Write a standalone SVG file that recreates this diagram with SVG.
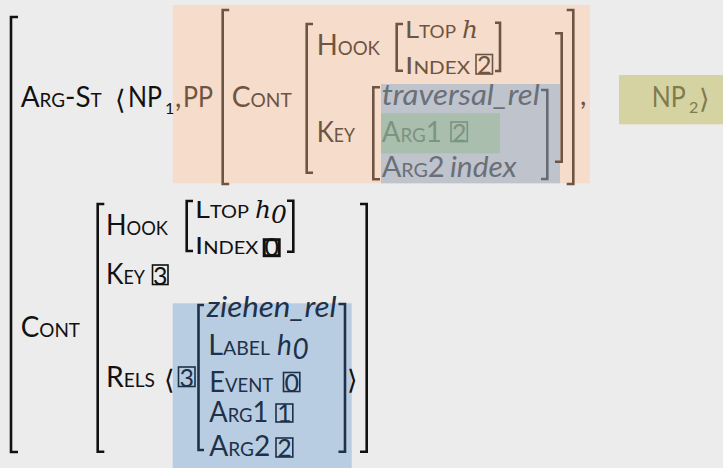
<svg xmlns="http://www.w3.org/2000/svg" width="723" height="468" viewBox="0 0 723 468">
<style>
text{font-family:Lato,"Open Sans","DejaVu Sans",sans-serif;font-size:28px;}
.sc{font-size:19px;}
.n{font-size:24px;}
.nsc{font-size:16.5px;}
.it{font-style:italic;}
.sub{font-size:16px;}
.math{font-family:"DejaVu Serif","Liberation Serif",serif;font-style:italic;font-size:25px;}
.ang{font-family:"DejaVu Sans",sans-serif;font-size:27px;}
.br{fill:none;stroke-width:2.6;}
.k{fill:#111;} .kl{stroke:#111;}
.b{fill:#6e5443;} .bl{stroke:#6e5443;}
.g{fill:#6a6f78;} .gl{stroke:#666b74;}
.gr{fill:#7c937f;} .grl{stroke:#7c937f;}
.kh{fill:#7e7b4f;}
.nv{fill:#1e3148;} .nvl{stroke:#1e3148;}
.box{fill:none;stroke-width:1.6;}
.dg{font-size:25px;text-anchor:middle;}
</style>
<rect width="723" height="468" fill="#ececec"/>

<g id="backgrounds">
<rect x="172.7" y="5" width="417.3" height="178.3" fill="#f5dccb"/>
<rect x="381" y="84" width="179" height="99.3" fill="#bec3cc"/>
<rect x="381" y="113.3" width="119" height="40" fill="#a9bead"/>
<rect x="619" y="75" width="104" height="49.3" fill="#d6d3a2"/>
<rect x="172.7" y="303.3" width="179" height="164.7" fill="#b9cde2"/>
</g>

<g id="brackets">
<path class="br kl" stroke-width="3" d="M18,17 H11 V452 H18"/>
<path class="br bl" d="M229.2,10 H222.7 V184 H229.2"/>
<path class="br bl" d="M313,24 H306.7 V172.7 H313"/>
<path class="br bl" d="M403,24 H396.7 V70.7 H403"/>
<path class="br bl" d="M495,22.7 H500 V71 H495"/>
<path class="br bl" d="M380,87.3 H373.3 V179.3 H380"/>
<path class="br gl" d="M541,90 H547.3 V179 H541"/>
<path class="br bl" d="M555,33.3 H561.7 V161.7 H555"/>
<path class="br bl" d="M566.7,10 H573.3 V184 H566.7"/>
<path class="br kl" d="M104.3,204 H97.7 V451.7 H104.3"/>
<path class="br kl" d="M193,201 H186.7 V251 H193"/>
<path class="br kl" d="M287,200.7 H293.3 V251.7 H287"/>
<path class="br nvl" d="M204,305 H198.5 V450 H204"/>
<path class="br nvl" d="M338.5,304 H345 V451.7 H338.5"/>
<path class="br kl" d="M360,204 H366.7 V451.7 H360"/>
</g>

<g id="arg-st">
<text class="k" x="20.7" y="107.3" textLength="81" lengthAdjust="spacingAndGlyphs">A<tspan class="sc">RG</tspan>-S<tspan class="sc">T</tspan></text>
<text class="k ang" x="115" y="109">⟨</text>
<text class="k" x="128" y="107.3" textLength="34" lengthAdjust="spacingAndGlyphs">NP</text>
<text class="k sub" x="165" y="114">1</text>
<text class="b" x="175" y="107.3">,</text>
<text class="b" x="183" y="107.3" textLength="30" lengthAdjust="spacingAndGlyphs">PP</text>
</g>

<g id="pp-avm">
<text class="b" x="231.7" y="107.3" textLength="60" lengthAdjust="spacingAndGlyphs">C<tspan class="sc">ONT</tspan></text>
<text class="b" x="316.7" y="55" textLength="63.3" lengthAdjust="spacingAndGlyphs">H<tspan class="sc">OOK</tspan></text>
<text class="b n" x="405" y="37.7" textLength="51" lengthAdjust="spacingAndGlyphs">L<tspan class="nsc">TOP</tspan></text>
<text class="b math" x="462" y="37.7">h</text>
<text class="b n" x="405" y="74" textLength="65" lengthAdjust="spacingAndGlyphs">I<tspan class="nsc">NDEX</tspan></text>
<rect class="box bl" x="476" y="54.5" width="16.5" height="19.5"/>
<text class="b dg" x="484.3" y="74">2</text>
<text class="b" x="316.7" y="141.7" textLength="38.3" lengthAdjust="spacingAndGlyphs">K<tspan class="sc">EY</tspan></text>
<text class="g it" x="381.7" y="105" textLength="158" lengthAdjust="spacingAndGlyphs">traversal_rel</text>
<text class="gr" x="381.7" y="141.7" textLength="60" lengthAdjust="spacingAndGlyphs">A<tspan class="sc">RG</tspan>1</text>
<rect class="box grl" x="451" y="122" width="16.3" height="19.5"/>
<text class="gr dg" x="459.2" y="141.5">2</text>
<text class="g" x="381.7" y="176.7" textLength="63" lengthAdjust="spacingAndGlyphs">A<tspan class="sc">RG</tspan>2</text>
<text class="g it" x="450" y="176.7" textLength="66.7" lengthAdjust="spacingAndGlyphs">index</text>
<text class="b" x="580" y="105">,</text>
</g>

<g id="np2">
<text class="kh" x="651.7" y="106.7" textLength="34" lengthAdjust="spacingAndGlyphs">NP</text>
<text class="kh sub" x="689" y="113">2</text>
<text class="kh ang" x="699" y="108">⟩</text>
</g>

<g id="cont">
<text class="k" x="20.7" y="336.7" textLength="59.3" lengthAdjust="spacingAndGlyphs">C<tspan class="sc">ONT</tspan></text>
<text class="k" x="106" y="235" textLength="62" lengthAdjust="spacingAndGlyphs">H<tspan class="sc">OOK</tspan></text>
<text class="k n" x="195" y="217.7" textLength="54" lengthAdjust="spacingAndGlyphs">L<tspan class="nsc">TOP</tspan></text>
<text class="k math" x="255" y="217.7">h</text>
<text class="k math" x="271" y="223" font-size="17">0</text>
<text class="k n" x="195" y="254" textLength="63.3" lengthAdjust="spacingAndGlyphs">I<tspan class="nsc">NDEX</tspan></text>
<rect x="264.2" y="239.7" width="15" height="16" fill="none" stroke="#111" stroke-width="3"/>
<text class="k dg" x="271.7" y="256">0</text>
<text class="k" x="106" y="284" textLength="39" lengthAdjust="spacingAndGlyphs">K<tspan class="sc">EY</tspan></text>
<rect class="box kl" x="152.5" y="265" width="15.5" height="19.5"/>
<text class="k dg" x="160.2" y="285">3</text>
<text class="k" x="106" y="386.7" textLength="49" lengthAdjust="spacingAndGlyphs">R<tspan class="sc">ELS</tspan></text>
<text class="k ang" x="164" y="389">⟨</text>
<rect class="box nvl" x="178.5" y="367" width="16.5" height="19.5"/>
<text class="nv dg" x="186.7" y="387">3</text>
<text class="k ang" x="347" y="389" font-size="30">⟩</text>
</g>

<g id="rels">
<text class="nv it" x="206.7" y="316.7" textLength="130" lengthAdjust="spacingAndGlyphs">ziehen_rel</text>
<text class="nv" x="208.3" y="355" textLength="61.7" lengthAdjust="spacingAndGlyphs">L<tspan class="sc">ABEL</tspan></text>
<text class="nv it" x="277" y="355">h</text>
<text class="nv it" x="292.5" y="359" font-size="18">0</text>
<text class="nv" x="209.3" y="391.7" textLength="64" lengthAdjust="spacingAndGlyphs">E<tspan class="sc">VENT</tspan></text>
<rect class="box nvl" x="283.5" y="372.5" width="16.3" height="19"/>
<text class="nv dg" x="291.7" y="392">0</text>
<text class="nv" x="209.3" y="422" textLength="59" lengthAdjust="spacingAndGlyphs">A<tspan class="sc">RG</tspan>1</text>
<rect class="box nvl" x="276" y="404" width="16.8" height="18"/>
<text class="nv dg" x="284.4" y="422">1</text>
<text class="nv" x="209.3" y="455.5" textLength="61" lengthAdjust="spacingAndGlyphs">A<tspan class="sc">RG</tspan>2</text>
<rect class="box nvl" x="276" y="438" width="16.8" height="19"/>
<text class="nv dg" x="284.4" y="457">2</text>
</g>
</svg>
